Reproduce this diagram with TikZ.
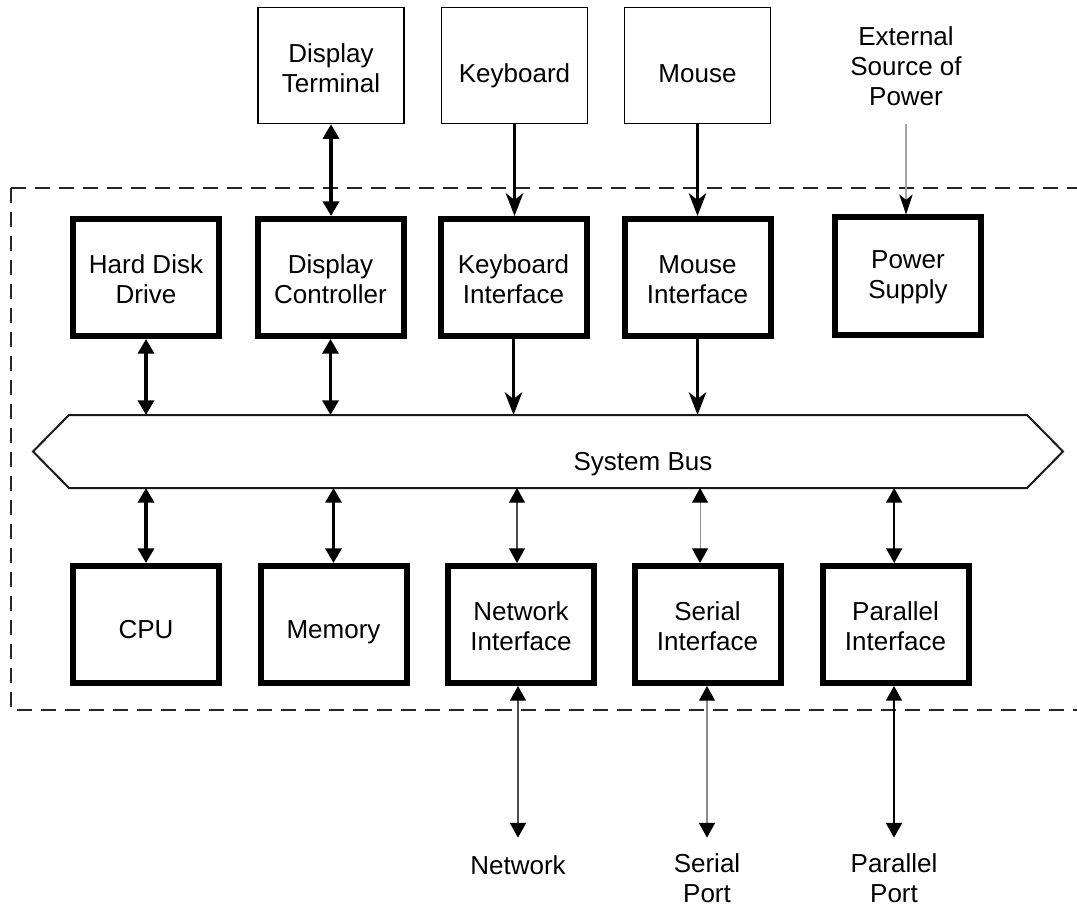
\documentclass[tikz,border=0pt]{standalone}
\usepackage{fontspec}
\setmainfont{Liberation Sans}
\usetikzlibrary{arrows.meta,calc}
\begin{document}
\begin{tikzpicture}[x=0.75pt,y=-0.75pt,
  every node/.style={font=\fontsize{19.5pt}{22.5pt}\selectfont},
  thickbox/.style={draw,line width=4.5pt,minimum width=109.5pt,minimum height=87.75pt,align=center,inner sep=0pt,text height=38.5pt,text depth=0pt},
  onel/.style={text height=21pt,text depth=0pt},
  thinbox/.style={draw,line width=1pt,minimum width=109.5pt,minimum height=87pt,align=center,inner sep=0pt,text depth=0pt},
  lbl/.style={align=center,inner sep=0pt,text depth=0pt},
  tip/.style={Triangle[length=11pt,width=12pt,color=black]},
  stl/.style={Stealth[length=17pt,width=13pt,inset=5pt,color=black]},
  dbl/.style={line width=2.6pt,{Triangle[length=11pt,width=12pt]}-{Triangle[length=11pt,width=12pt]}},
  dblthin/.style={line width=0.8pt,draw=#1,{Triangle[length=11pt,width=12pt,color=black]}-{Triangle[length=11pt,width=12pt,color=black]}},
  dblmed/.style={line width=1.3pt,{Triangle[length=11pt,width=12pt]}-{Triangle[length=11pt,width=12pt]}},
  one/.style={line width=2.6pt,-{Stealth[length=17pt,width=13pt,inset=5pt]}},
  pow/.style={line width=0.8pt,draw=black!35,-{Stealth[length=15pt,width=10pt,inset=4pt,color=black]}},
  dashbox/.style={line width=1.1pt,draw=black!85,dash pattern=on 11.25pt off 6.75pt},
  busline/.style={line width=1.5pt,draw=black!90,line join=miter}
]
\clip (0,0) rectangle (1077,909);
\fill[white] (0,0) rectangle (1077,909);

% dashed enclosure
\draw[dashbox] (11,188) -- (1095,188);
\draw[dashbox] (11,188) -- (11,710) -- (1095,710);

% external devices
\node[thinbox,text height=41.25pt] (dt) at (331,65.5) {Display\\Terminal};
\node[thinbox,text height=25.5pt] (kb) at (514.5,65.5) {Keyboard};
\node[thinbox,text height=25.5pt] (ms) at (697.5,65.5) {Mouse};
\node[lbl,anchor=south] (ext) at (906,106) {External\\Source of\\Power};

% row 1
\node[thickbox] (hdd) at (146,277.5) {Hard Disk\\Drive};
\node[thickbox] (dc) at (330.5,277.5) {Display\\Controller};
\node[thickbox] (ki) at (513.5,277.5) {Keyboard\\Interface};
\node[thickbox] (mi) at (697.5,277.5) {Mouse\\Interface};
\node[thickbox,text height=33pt] (ps) at (908,276) {Power\\Supply};

% bus
\node[minimum width=772.5pt,minimum height=54.75pt,inner sep=0pt,outer sep=0pt] (bus) at (548,451.5) {};
\draw[busline] (bus.west) -- ($(bus.north west)+(36,0)$) -- ($(bus.north east)+(-36,0)$) -- (bus.east)
  -- ($(bus.south east)+(-36,0)$) -- ($(bus.south west)+(36,0)$) -- cycle;
\node[lbl,anchor=base] (buslbl) at (643,470) {System Bus};

% row 2
\node[thickbox,onel] (cpu) at (146,624.5) {CPU};
\node[thickbox,onel] (mem) at (333.5,624.5) {Memory};
\node[thickbox] (net) at (521,624.5) {Network\\Interface};
\node[thickbox] (ser) at (707.5,624.5) {Serial\\Interface};
\node[thickbox] (par) at (895.5,624.5) {Parallel\\Interface};

% bottom labels
\node[lbl,anchor=south] (netl) at (518,875) {Network};
\node[lbl,anchor=south] (serl) at (707,903) {Serial\\Port};
\node[lbl,anchor=south] (parl) at (894,903) {Parallel\\Port};

% connectors: external to interfaces
\draw[dbl] (dt.south) -- (dt.south |- dc.north);
\draw[one] (kb.south) -- (kb.south |- ki.north);
\draw[one] (ms.south) -- (ms.south |- mi.north);
\draw[pow,shorten <=13.5pt] (ext.south) -- (ext.south |- ps.north);

% row 1 to bus
\draw[dbl] (hdd.south) -- (hdd.south |- bus.north);
\draw[dbl] (dc.south) -- (dc.south |- bus.north);
\draw[one] (ki.south) -- (ki.south |- bus.north);
\draw[one] (mi.south) -- (mi.south |- bus.north);

% bus to row 2
\draw[dbl] (cpu.north |- bus.south) -- (cpu.north);
\draw[dbl] (mem.north |- bus.south) -- (mem.north);
\draw[dblthin=black!70] ([xshift=-3pt]net.north |- bus.south) -- ([xshift=-3pt]net.north);
\draw[dblthin=black!45] ([xshift=-5.6pt]ser.north |- bus.south) -- ([xshift=-5.6pt]ser.north);
\draw[dblmed] ([xshift=-1pt]par.north |- bus.south) -- ([xshift=-1pt]par.north);

% row 2 to outside
\draw[dblthin=black!70,shorten >=13.5pt] (net.south -| netl.north) -- (netl.north);
\draw[dblthin=black!45,shorten >=12pt] (ser.south -| serl.north) -- (serl.north);
\draw[dblmed,shorten >=12pt] (par.south -| parl.north) -- (parl.north);
\end{tikzpicture}
\end{document}
